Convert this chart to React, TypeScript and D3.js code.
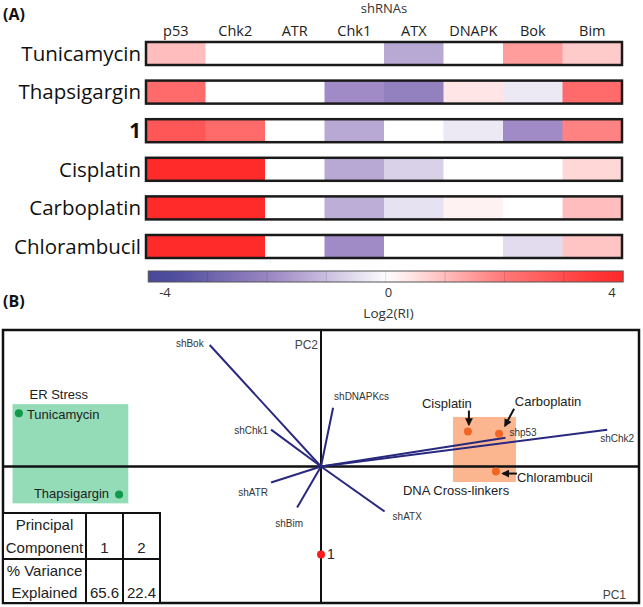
import * as React from "react";
import * as d3 from "d3";

// ---- panel A data (log2 RI) ----
const shrnas = ["p53", "Chk2", "ATR", "Chk1", "ATX", "DNAPK", "Bok", "Bim"];
const treatments = ["Tunicamycin", "Thapsigargin", "1", "Cisplatin", "Carboplatin", "Chlorambucil"];
const tunicamycin = [1.0, 0, 0, 0, -1.5, 0, 1.5, 0.8];
const thapsigargin = [2.4, 0, 0, -2.0, -2.3, 0.4, -0.4, 2.4];
const compound1 = [2.9, 2.4, 0, -1.5, 0, -0.4, -2.0, 1.9];
const cisplatin = [4, 4, 0, -1.5, -0.8, 0, 0, 0.6];
const carboplatin = [4, 4, 0, -1.4, -0.5, 0.2, 0, 1.0];
const chlorambucil = [4, 4, 0, -2.0, 0, 0, -0.6, 0.9];
const heatRows = [tunicamycin, thapsigargin, compound1, cisplatin, carboplatin, chlorambucil];
const colorTicks = [-4, 0, 4];
const colorExtent = [-4.3, 4.2];

// ---- panel B data (PCA biplot) ----
const loadingNames = ["shBok", "shChk1", "shDNAPKcs", "shATR", "shBim", "shATX", "shp53", "shChk2"];
const loadingPC1 = [-0.35, -0.157, 0.038, -0.157, -0.075, 0.2, 0.58, 0.9];
const loadingPC2 = [0.89, 0.27, 0.43, -0.117, -0.3, -0.33, 0.21, 0.27];
const scoreNames = ["Tunicamycin", "Thapsigargin", "1", "Cisplatin", "Carboplatin", "Chlorambucil"];
const scorePC1 = [-0.95, -0.635, 0, 0.462, 0.56, 0.55];
const scorePC2 = [0.39, -0.205, -0.645, 0.256, 0.24, -0.037];
const scoreGroup = ["er", "er", "cmpd", "dna", "dna", "dna"];
const groupNames = ["ER Stress", "DNA Cross-linkers"];
const groupPC1 = [[-0.97, -0.606], [0.415, 0.613]];
const groupPC2 = [[-0.27, 0.457], [-0.114, 0.363]];
const pcNumbers = ["1", "2"];
const pcVariance = ["65.6", "22.4"];

const W = 643;
const H = 607;
const fontA = "'Open Sans', 'DejaVu Sans', sans-serif";
const fontB = "'Liberation Sans', Arial, sans-serif";

const color = d3
  .scaleLinear<string>()
  .domain([-4, -2, 0, 2, 4])
  .range(["#48489a", "#a08bc6", "#ffffff", "#ff7b7b", "#ff2a2a"])
  .clamp(true);

const loadLabel: Record<string, { anchor: string; dx: number; dy: number }> = {
  shBok: { anchor: "end", dx: -6, dy: -2 },
  shChk1: { anchor: "end", dx: -3, dy: 1 },
  shDNAPKcs: { anchor: "start", dx: 1, dy: -11 },
  shATR: { anchor: "end", dx: -3, dy: 10 },
  shBim: { anchor: "middle", dx: -8, dy: 16 },
  shATX: { anchor: "start", dx: 8, dy: 5 },
  shp53: { anchor: "start", dx: 4, dy: -5 },
  shChk2: { anchor: "start", dx: -7, dy: 9 },
};

const scoreLabel: Record<string, { anchor: string; dx: number; dy: number; size: number }> = {
  Tunicamycin: { anchor: "start", dx: 8, dy: 1, size: 13 },
  Thapsigargin: { anchor: "end", dx: -10, dy: -1, size: 13 },
  "1": { anchor: "start", dx: 6, dy: 0, size: 14 },
  Cisplatin: { anchor: "middle", dx: -21, dy: -28, size: 13 },
  Carboplatin: { anchor: "middle", dx: 49, dy: -32, size: 13 },
  Chlorambucil: { anchor: "start", dx: 21, dy: 6, size: 13 },
};

// arrows pointing at dots: [x1, y1, x2, y2] offsets from the dot
const arrows: Record<string, number[]> = {
  Cisplatin: [1, -21, 1, -7],
  Carboplatin: [15, -25, 6, -8],
  Chlorambucil: [21, 2, 7, 2],
};

const dotColor: Record<string, string> = { er: "#119a4a", cmpd: "#ff1a1a", dna: "#f26522" };

const HeatPanel = () => {
  const x = d3.scaleBand().domain(shrnas).range([146, 622]);
  const y = d3.scaleBand().domain(treatments).range([42, 258]).paddingInner(0.404);
  const cb = d3.scaleLinear().domain([-4, 4]).range([165, 612]);
  const stops = d3.range(0, 1.0001, 0.05).map((t) => {
    const v = colorExtent[0] + t * (colorExtent[1] - colorExtent[0]);
    return { t, c: color(v) };
  });
  const cbX0 = cb(colorExtent[0]);
  const cbX1 = cb(colorExtent[1]);
  const segs = d3.range(1, 8).map((i) => cbX0 + (i * (cbX1 - cbX0)) / 8);
  return (
    <g fontFamily={fontA} fill="#111">
      <text x={3} y={20} fontSize={16} fontWeight="bold">(A)</text>
      <text x={384} y={13} fontSize={13} textAnchor="middle" fill="#333">shRNAs</text>
      {shrnas.map((s) => (
        <text key={s} x={x(s)! + x.bandwidth() / 2} y={36} fontSize={14.5} textAnchor="middle" fill="#222">
          {s}
        </text>
      ))}
      {treatments.map((t, i) => (
        <g key={t}>
          <text
            x={141}
            y={y(t)! + y.bandwidth() / 2}
            dy="0.36em"
            fontSize={20.5}
            textAnchor="end"
            fontWeight={t === "1" ? "bold" : "normal"}
          >
            {t}
          </text>
          {heatRows[i].map((v, j) => (
            <rect
              key={j}
              x={x(shrnas[j])}
              y={y(t)}
              width={x.bandwidth() + 0.5}
              height={y.bandwidth()}
              fill={color(v)}
            />
          ))}
          <rect
            x={146}
            y={y(t)}
            width={476}
            height={y.bandwidth()}
            fill="none"
            stroke="#1a1a1a"
            strokeWidth={2.5}
          />
        </g>
      ))}
      <defs>
        <linearGradient id="cbar" x1="0" x2="1" y1="0" y2="0">
          {stops.map((s) => (
            <stop key={s.t} offset={s.t} stopColor={s.c} />
          ))}
        </linearGradient>
      </defs>
      <rect x={cbX0} y={271} width={cbX1 - cbX0} height={11} fill="url(#cbar)" stroke="#555" strokeWidth={1} />
      {segs.map((sx) => (
        <line key={sx} x1={sx} x2={sx} y1={271} y2={282} stroke="#000" strokeOpacity={0.12} />
      ))}
      {colorTicks.map((v) => (
        <text key={v} x={cb(v)} y={297} fontSize={13} textAnchor="middle" fill="#333">
          {v}
        </text>
      ))}
      <text x={cb(0)} y={318} fontSize={13.5} textAnchor="middle" fill="#333">Log2(RI)</text>
      <text x={3} y={307} fontSize={16} fontWeight="bold">(B)</text>
    </g>
  );
};

const BiplotPanel = () => {
  const xs = d3.scaleLinear().domain([-1, 1]).range([3, 639]);
  const ys = d3.scaleLinear().domain([-1, 1]).range([603, 330]);
  const ox = xs(0);
  const oy = ys(0);
  const tx = [3, 86, 123, 160];
  const ty = [513, 559, 603];
  return (
    <g fontFamily={fontB} fill="#222">
      <defs>
        <marker id="ah" viewBox="0 0 10 10" refX="8" refY="5" markerWidth="4" markerHeight="4" orient="auto">
          <path d="M0,0L10,5L0,10z" fill="#111" />
        </marker>
      </defs>
      {groupNames.map((g, i) => (
        <rect
          key={g}
          x={xs(groupPC1[i][0])}
          y={ys(groupPC2[i][1])}
          width={xs(groupPC1[i][1]) - xs(groupPC1[i][0])}
          height={ys(groupPC2[i][0]) - ys(groupPC2[i][1])}
          fill={i === 0 ? "#93dcb7" : "#fbb690"}
        />
      ))}
      <text x={xs(groupPC1[0][0]) + 17} y={ys(groupPC2[0][1]) - 5} fontSize={13}>ER Stress</text>
      <text x={xs(groupPC1[1][0]) - 50} y={ys(groupPC2[1][0]) + 13} fontSize={13}>DNA Cross-linkers</text>

      {/* axes and frame */}
      <rect x={xs(-1)} y={ys(1)} width={xs(1) - xs(-1)} height={ys(-1) - ys(1)} fill="none" stroke="#111" strokeWidth={2.5} />
      <line x1={xs(-1)} x2={xs(1)} y1={oy} y2={oy} stroke="#111" strokeWidth={2.5} />
      <line x1={ox} x2={ox} y1={ys(1)} y2={ys(-1)} stroke="#111" strokeWidth={2} />
      <text x={ox - 3} y={ys(1) + 19} fontSize={12} textAnchor="end" fill="#444">PC2</text>
      <text x={xs(1) - 13} y={ys(-1) - 4} fontSize={12} textAnchor="end" fill="#444">PC1</text>

      {/* loadings */}
      {loadingNames.map((n, i) => {
        const ex = xs(loadingPC1[i]);
        const ey = ys(loadingPC2[i]);
        const l = loadLabel[n];
        return (
          <g key={n}>
            <line x1={ox} y1={oy} x2={ex} y2={ey} stroke="#28287f" strokeWidth={2} />
            <text x={ex + l.dx} y={ey + l.dy} dy="0.35em" fontSize={10} textAnchor={l.anchor} fill="#333">
              {n}
            </text>
          </g>
        );
      })}

      {/* scores */}
      {scoreNames.map((n, i) => {
        const px = xs(scorePC1[i]);
        const py = ys(scorePC2[i]);
        const l = scoreLabel[n];
        const a = arrows[n];
        return (
          <g key={n}>
            <circle cx={px} cy={py} r={4} fill={dotColor[scoreGroup[i]]} />
            <text x={px + l.dx} y={py + l.dy} dy="0.35em" fontSize={l.size} textAnchor={l.anchor}>
              {n}
            </text>
            {a && (
              <line
                x1={px + a[0]}
                y1={py + a[1]}
                x2={px + a[2]}
                y2={py + a[3]}
                stroke="#111"
                strokeWidth={2}
                markerEnd="url(#ah)"
              />
            )}
          </g>
        );
      })}

      {/* variance table */}
      <rect x={tx[0]} y={ty[0]} width={tx[3] - tx[0]} height={ty[2] - ty[0]} fill="#fff" stroke="#111" strokeWidth={2} />
      {tx.slice(1, 3).map((v) => (
        <line key={v} x1={v} x2={v} y1={ty[0]} y2={ty[2]} stroke="#111" strokeWidth={2} />
      ))}
      <line x1={tx[0]} x2={tx[3]} y1={ty[1]} y2={ty[1]} stroke="#111" strokeWidth={2} />
      <g fontSize={15} textAnchor="middle">
        <text x={(tx[0] + tx[1]) / 2} y={530}>Principal</text>
        <text x={(tx[0] + tx[1]) / 2} y={553}>Component</text>
        <text x={(tx[0] + tx[1]) / 2} y={576}>% Variance</text>
        <text x={(tx[0] + tx[1]) / 2} y={598}>Explained</text>
        {pcNumbers.map((p, i) => (
          <text key={p} x={(tx[i + 1] + tx[i + 2]) / 2} y={553}>{p}</text>
        ))}
        {pcVariance.map((p, i) => (
          <text key={p} x={(tx[i + 1] + tx[i + 2]) / 2} y={598}>{p}</text>
        ))}
      </g>
    </g>
  );
};

export default function App() {
  return (
    <svg width={W} height={H} style={{ position: "absolute", left: 0, top: 0, background: "#fff" }}>
      <HeatPanel />
      <BiplotPanel />
    </svg>
  );
}
